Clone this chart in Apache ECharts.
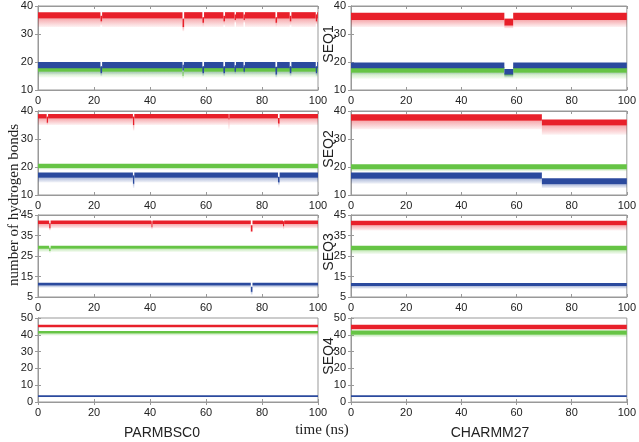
<!DOCTYPE html>
<html>
<head>
<meta charset="utf-8">
<script src="https://cdn.jsdelivr.net/npm/echarts@6/dist/echarts.min.js"></script>
<style>
  html, body { margin: 0; padding: 0; background: #fff; }
  #chart { width: 639px; height: 442px; }
</style>
</head>
<body>
<div id="chart"></div>
<script>
// each trace: base level [fuzzLow, coreLow, coreHigh] + events [t, width, fuzzLow, coreLow, coreHigh]
const bscSeq1Red = [32.5, 35.5, 37.8]
const bscSeq1RedDips = [[22.3, 0.6, 33, 34.5, 36.5], [51.6, 0.6, 31, 32.5, 35.5], [58.7, 0.6, 32.5, 34, 36], [66.2, 0.6, 33, 34.5, 36.5], [70.2, 0.5, 34, 35, 37], [73.4, 0.5, 34, 35, 37], [84.8, 0.6, 32.5, 34, 36], [89.9, 0.6, 33, 34.5, 36.5], [99.2, 0.5, 33.5, 34.5, 37]]
const bscSeq1Blue = [15.5, 17.8, 20]
const bscSeq1BlueDips = [[22.3, 0.6, 15, 16, 18.5], [51.6, 0.5, 15.5, 17, 19], [58.7, 0.6, 15, 16, 18.5], [66.2, 0.6, 15, 16, 18.5], [70.2, 0.5, 15.5, 16.5, 18.8], [73.4, 0.5, 15.5, 16.5, 18.8], [84.8, 0.6, 14.5, 15.5, 18.3], [89.9, 0.6, 15, 16, 18.5], [99.2, 0.5, 15, 16, 18.5]]
const bscSeq1Green = [14.5, 16.5, 18.2]
const bscSeq1GreenDips = [[51.6, 0.4, 14, 15, 16.5]]

const chmSeq1Red = [32.5, 35, 37.6]
const chmSeq1RedDips = [[55.6, 3.2, 32, 33, 35.5]]
const chmSeq1Blue = [15.5, 17.8, 19.8]
const chmSeq1BlueDips = [[55.6, 3.2, 14.5, 15.5, 17.5]]
const chmSeq1Green = [14, 16.2, 18.2]
const chmSeq1GreenDips = [[55.6, 3.2, 14, 15.2, 16]]

const bscSeq2Red = [35, 37.3, 38.9]
const bscSeq2RedDips = [[3.1, 0.5, 35, 35.8, 38], [33.9, 0.5, 33, 35, 38], [68, 0.4, 33.5, 37, 38.9], [85.7, 0.6, 34, 35.5, 37.5]]
const bscSeq2Green = [19, 19.6, 21.2]
const bscSeq2GreenDips = []
const bscSeq2Blue = [14.5, 16.2, 18]
const bscSeq2BlueDips = [[33.9, 0.5, 12.5, 14, 17], [85.7, 0.6, 13.5, 14.5, 16.5]]

const chmSeq2Red = [33.5, 36.5, 38.8]
const chmSeq2RedDips = [[69.2, 30.8, 31.5, 34.8, 37]]
const chmSeq2Green = [18.5, 19.2, 21]
const chmSeq2GreenDips = []
const chmSeq2Blue = [14, 15.8, 18]
const chmSeq2BlueDips = [[69.2, 30.8, 12.5, 13.8, 16]]

const bscSeq3Red = [38.5, 40.6, 42.3]
const bscSeq3RedDips = [[4, 0.5, 37.5, 38.5, 41], [40.5, 0.4, 38, 39, 42], [76, 0.6, 36.5, 37, 40], [87.5, 0.4, 38, 39.5, 42]]
const bscSeq3Green = [27, 28.5, 30]
const bscSeq3GreenDips = [[4, 0.5, 26.5, 27.5, 29]]
const bscSeq3Blue = [9.5, 10.6, 12]
const bscSeq3BlueDips = [[76, 0.6, 6, 7.5, 10]]

const chmSeq3Red = [37.5, 40, 42.2]
const chmSeq3Green = [26, 27.8, 30]
const chmSeq3Blue = [9, 10.4, 11.8]

const bscSeq4Red = [44, 44.6, 46]
const bscSeq4Green = [39.5, 40.8, 42.2]
const bscSeq4Blue = [2.8, 3, 4]

const chmSeq4Red = [42.5, 43.5, 46]
const chmSeq4Green = [38.5, 40, 42.6]
const chmSeq4Blue = [2.8, 3, 4]

const xTicks = [0, 100, 20]
const seqNames = ['SEQ1', 'SEQ2', 'SEQ3', 'SEQ4']
const yRanges = [[10, 40, 10], [10, 40, 10], [5, 45, 10], [0, 50, 10]]

const RED = '#e8202a', GREEN = '#66c445', BLUE = '#2b4a9e'
const RED_RGB = '232,32,42', GREEN_RGB = '102,196,69', BLUE_RGB = '43,74,158'

// panels: [row, col, traces]
const panels = [
  [0, 0, [[GREEN, bscSeq1Green, bscSeq1GreenDips], [BLUE, bscSeq1Blue, bscSeq1BlueDips], [RED, bscSeq1Red, bscSeq1RedDips]]],
  [0, 1, [[GREEN, chmSeq1Green, chmSeq1GreenDips], [BLUE, chmSeq1Blue, chmSeq1BlueDips], [RED, chmSeq1Red, chmSeq1RedDips]]],
  [1, 0, [[GREEN, bscSeq2Green, bscSeq2GreenDips], [BLUE, bscSeq2Blue, bscSeq2BlueDips], [RED, bscSeq2Red, bscSeq2RedDips]]],
  [1, 1, [[GREEN, chmSeq2Green, chmSeq2GreenDips], [BLUE, chmSeq2Blue, chmSeq2BlueDips], [RED, chmSeq2Red, chmSeq2RedDips]]],
  [2, 0, [[GREEN, bscSeq3Green, bscSeq3GreenDips], [BLUE, bscSeq3Blue, bscSeq3BlueDips], [RED, bscSeq3Red, bscSeq3RedDips]]],
  [2, 1, [[GREEN, chmSeq3Green, []], [BLUE, chmSeq3Blue, []], [RED, chmSeq3Red, []]]],
  [3, 0, [[GREEN, bscSeq4Green, []], [BLUE, bscSeq4Blue, []], [RED, bscSeq4Red, []]]],
  [3, 1, [[GREEN, chmSeq4Green, []], [BLUE, chmSeq4Blue, []], [RED, chmSeq4Red, []]]]
]
const rgbOf = { [RED]: RED_RGB, [GREEN]: GREEN_RGB, [BLUE]: BLUE_RGB }

const rowBoxes = [[6, 84], [111, 84], [215, 82], [318, 84]]
const colBoxes = [[38, 321], [351, 9]]

// turn level + events into keypoint rows [t, fuzzLow, coreLow, coreHigh]
function buildRows(level, events) {
  const rows = [[xTicks[0], ...level]]
  events.forEach(ev => {
    const t = ev[0], end = Math.min(ev[0] + ev[1], xTicks[1])
    const vals = ev.slice(2)
    rows.push([t, ...level], [t, ...vals], [end, ...vals])
    if (end < xTicks[1]) rows.push([end, ...level])
  })
  if (rows[rows.length - 1][0] < xTicks[1]) rows.push([xTicks[1], ...level])
  return rows
}

// one quad per pair of neighbouring keypoints: [t0, lo0, hi0, t1, lo1, hi1]
function bandSegments(rows, loIdx, hiIdx) {
  const segs = []
  for (let j = 0; j < rows.length - 1; j++) {
    const a = rows[j], b = rows[j + 1]
    if (b[0] === a[0]) continue
    segs.push([a[0], a[loIdx], a[hiIdx], b[0], b[loIdx], b[hiIdx]])
  }
  return segs
}

function bandSeries(i, data, fill, z) {
  return {
    type: 'custom', xAxisIndex: i * 2, yAxisIndex: i * 2, silent: true, animation: false, z,
    clip: true,
    encode: { x: [0, 3], y: [1, 2, 4, 5] },
    data,
    renderItem: (params, api) => {
      const p0 = api.coord([api.value(0), api.value(1)])
      const p1 = api.coord([api.value(0), api.value(2)])
      const p2 = api.coord([api.value(3), api.value(5)])
      const p3 = api.coord([api.value(3), api.value(4)])
      return { type: 'polygon', shape: { points: [p0, p1, p2, p3] }, style: { fill } }
    }
  }
}

const grid = [], xAxis = [], yAxis = [], series = []
const labelStyle = { fontSize: 11, color: '#222', fontFamily: 'Liberation Sans, Arial, sans-serif' }

panels.forEach((p, i) => {
  const [row, col, traces] = p
  const [top, height] = rowBoxes[row]
  const [left, right] = colBoxes[col]
  const [ymin, ymax, yint] = yRanges[row]
  grid.push({ left, right, top, height, show: true, borderColor: '#999', borderWidth: 1, backgroundColor: '#fff' })

  const axisLine = { show: true, lineStyle: { color: '#999', width: 1 } }
  const tick = { show: true, inside: true, length: 3, lineStyle: { color: '#999' } }
  xAxis.push({ type: 'value', gridIndex: i, min: xTicks[0], max: xTicks[1], interval: xTicks[2],
    axisLine, axisTick: tick, splitLine: { show: false }, axisLabel: { ...labelStyle, margin: 5 } })
  xAxis.push({ type: 'value', gridIndex: i, position: 'top', min: xTicks[0], max: xTicks[1], interval: xTicks[2],
    axisLine, axisTick: tick, splitLine: { show: false }, axisLabel: { show: false } })
  yAxis.push({ type: 'value', gridIndex: i, min: ymin, max: ymax, interval: yint,
    axisLine, axisTick: tick, splitLine: { show: false }, axisLabel: { ...labelStyle, margin: 5 } })
  yAxis.push({ type: 'value', gridIndex: i, position: 'right', min: ymin, max: ymax, interval: yint,
    axisLine, axisTick: tick, splitLine: { show: false }, axisLabel: { show: false } })

  traces.forEach((tr, k) => {
    const [color, level, events] = tr
    const rows = buildRows(level, events)
    const rgb = rgbOf[color]
    const fuzzFill = new echarts.graphic.LinearGradient(0, 0, 0, 1, [
      { offset: 0, color: 'rgba(' + rgb + ',0.38)' },
      { offset: 1, color: 'rgba(' + rgb + ',0.06)' }
    ])
    series.push(bandSeries(i, bandSegments(rows, 1, 2), fuzzFill, 2 + k))
    series.push(bandSeries(i, bandSegments(rows, 2, 3), color, 6 + k))
  })
})

const graphic = [
  { type: 'text', x: 14, y: 205, rotation: Math.PI / 2,
    style: { text: 'number of hydrogen bonds', font: '15px "Liberation Serif", serif', fill: '#222', textAlign: 'center', textVerticalAlign: 'middle' } },
  { type: 'text', x: 322, y: 430,
    style: { text: 'time (ns)', font: '15px "Liberation Serif", serif', fill: '#222', textAlign: 'center', textVerticalAlign: 'middle' } },
  { type: 'text', x: 162, y: 433,
    style: { text: 'PARMBSC0', font: '14px "Liberation Sans", sans-serif', fill: '#222', textAlign: 'center', textVerticalAlign: 'middle' } },
  { type: 'text', x: 490, y: 433,
    style: { text: 'CHARMM27', font: '14px "Liberation Sans", sans-serif', fill: '#222', textAlign: 'center', textVerticalAlign: 'middle' } }
]
seqNames.forEach((name, r) => {
  const [top, height] = rowBoxes[r]
  graphic.push({ type: 'text', x: 329, y: top + height / 2 - 4, rotation: Math.PI / 2,
    style: { text: name, font: '14px "Liberation Sans", sans-serif', fill: '#222', textAlign: 'center', textVerticalAlign: 'middle' } })
})

const chart = echarts.init(document.getElementById('chart'))
chart.setOption({ backgroundColor: '#fff', animation: false, grid, xAxis, yAxis, series, graphic })
</script>
</body>
</html>
